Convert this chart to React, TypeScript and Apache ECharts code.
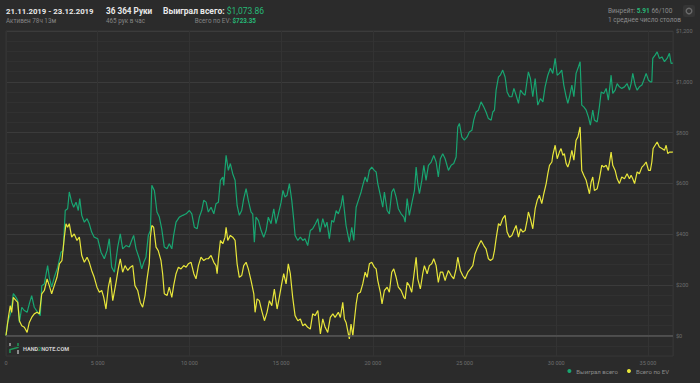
import React, { useEffect, useRef } from 'react';
import * as echarts from 'echarts';

const seriesNames = ['Выиграл всего', 'Всего по EV'];

const wonSeries: [number, number][] = [
  [0,0],[90,52],[270,92],[400,166],[550,151],[640,138],[730,52],[860,112],[1000,99],[1150,92],[1270,125],[1400,158],[1540,112],[1730,92],[1870,79],[1950,197],[2090,204],[2270,276],[2360,230],[2490,191],[2630,230],[2820,270],[3000,329],[3120,335],[3230,493],[3360,500],[3450,566],[3580,526],[3690,506],[3820,526],[3940,493],[4020,540],[4130,474],[4270,447],[4420,461],[4540,441],[4670,408],[4810,388],[5000,382],[5180,329],[5360,303],[5510,335],[5630,382],[5760,270],[5910,250],[6090,349],[6230,401],[6360,342],[6540,355],[6720,349],[6850,375],[6960,395],[7090,342],[7270,303],[7400,263],[7510,289],[7630,309],[7760,395],[7870,414],[7950,592],[8090,572],[8230,487],[8360,467],[8490,421],[8630,349],[8780,342],[8900,362],[9040,342],[9140,395],[9270,447],[9450,467],[9640,474],[9820,480],[10000,493],[10130,480],[10270,427],[10420,421],[10540,467],[10670,493],[10780,533],[10910,526],[11030,487],[11180,506],[11330,480],[11450,520],[11580,526],[11690,612],[11820,625],[11870,592],[12000,710],[12120,651],[12230,678],[12360,638],[12490,612],[12600,513],[12720,474],[12850,493],[12960,540],[13090,579],[13210,533],[13360,487],[13450,480],[13540,368],[13630,467],[13760,454],[13910,414],[14050,388],[14180,414],[14300,467],[14450,441],[14600,500],[14720,441],[14850,480],[15000,526],[15100,572],[15210,546],[15320,553],[15450,599],[15580,533],[15690,454],[15760,395],[15910,375],[16050,388],[16180,375],[16300,382],[16450,355],[16590,414],[16720,421],[16870,441],[17000,461],[17120,408],[17270,461],[17400,427],[17500,447],[17630,382],[17760,454],[17870,447],[18000,493],[18120,480],[18270,513],[18360,553],[18450,493],[18540,434],[18630,401],[18720,368],[18850,427],[18960,375],[19090,506],[19210,533],[19360,566],[19450,592],[19580,625],[19690,605],[19810,651],[19940,664],[20080,651],[20180,645],[20270,599],[20410,553],[20540,506],[20630,566],[20780,493],[20900,480],[21030,566],[21140,579],[21270,546],[21390,500],[21540,480],[21690,467],[21760,447],[21870,540],[21990,474],[22120,520],[22270,572],[22360,664],[22450,599],[22540,559],[22670,612],[22780,671],[22900,612],[23030,671],[23180,684],[23320,710],[23450,684],[23570,625],[23680,697],[23810,717],[23940,697],[24120,651],[24270,671],[24410,678],[24540,704],[24630,822],[24720,836],[24850,783],[24990,770],[25140,783],[25260,802],[25400,809],[25500,849],[25630,881],[25750,888],[25900,921],[26050,901],[26170,881],[26300,855],[26450,849],[26540,881],[26630,888],[26720,967],[26850,1019],[26950,1026],[27080,1046],[27210,1019],[27320,960],[27450,941],[27580,941],[27690,974],[27810,947],[27940,915],[28050,967],[28180,954],[28300,947],[28410,1006],[28480,1039],[28590,1013],[28720,941],[28850,1013],[28990,908],[29140,934],[29270,921],[29390,980],[29540,1026],[29680,1053],[29810,1033],[29940,1092],[30050,1026],[30170,1033],[30300,1046],[30410,987],[30540,941],[30630,915],[30720,941],[30850,987],[30960,941],[31080,1033],[31210,1059],[31300,1079],[31390,908],[31500,901],[31630,888],[31750,862],[31860,829],[31990,888],[32080,849],[32230,842],[32350,901],[32450,960],[32590,954],[32720,974],[32840,928],[32990,1026],[33080,954],[33210,967],[33320,993],[33440,980],[33570,974],[33720,980],[33860,993],[33990,967],[34080,993],[34170,1033],[34300,987],[34410,967],[34530,980],[34670,987],[34770,1006],[34900,1033],[35030,1006],[35130,1000],[35210,1000],[35260,1092],[35390,1105],[35500,1118],[35620,1092],[35760,1098],[35900,1079],[36040,1092],[36170,1112],[36260,1072],[36364,1073.86]
];

const evSeries: [number, number][] = [
  [0,0],[130,72],[230,118],[310,92],[400,151],[550,138],[640,131],[730,59],[860,39],[1000,33],[1150,13],[1270,52],[1400,72],[1540,86],[1690,92],[1820,86],[1950,165],[2090,178],[2240,224],[2360,197],[2490,165],[2630,197],[2780,230],[2910,283],[3050,296],[3180,388],[3270,441],[3360,427],[3450,441],[3580,388],[3720,401],[3870,375],[4000,388],[4130,316],[4270,289],[4420,309],[4540,289],[4670,257],[4810,230],[4960,191],[5090,171],[5220,178],[5330,151],[5450,105],[5580,191],[5690,230],[5820,138],[5870,158],[6000,210],[6120,263],[6230,303],[6360,250],[6490,276],[6640,257],[6780,270],[6910,276],[7030,197],[7180,178],[7320,131],[7450,112],[7580,158],[7690,224],[7810,283],[7870,388],[7950,434],[8050,427],[8180,349],[8300,335],[8450,296],[8540,244],[8630,165],[8780,158],[8900,191],[9040,151],[9140,197],[9270,244],[9400,270],[9540,263],[9690,276],[9820,270],[9940,283],[10090,289],[10240,244],[10360,224],[10490,276],[10630,309],[10780,296],[10910,303],[11030,303],[11180,316],[11330,289],[11450,276],[11510,244],[11580,303],[11690,375],[11820,362],[11940,388],[12000,427],[12090,375],[12230,395],[12360,388],[12490,375],[12600,283],[12720,230],[12850,237],[12960,276],[13090,289],[13210,263],[13360,217],[13510,165],[13580,92],[13690,145],[13810,138],[13940,99],[14090,59],[14230,92],[14360,138],[14490,118],[14630,184],[14780,105],[14900,151],[15030,204],[15140,244],[15270,204],[15390,283],[15500,244],[15630,151],[15760,79],[15910,59],[16050,66],[16180,39],[16300,46],[16450,33],[16590,26],[16720,86],[16850,79],[17000,99],[17140,7],[17270,66],[17400,33],[17540,13],[17680,72],[17820,86],[17940,72],[18120,92],[18230,72],[18360,131],[18450,66],[18540,52],[18630,20],[18720,-13],[18810,46],[18910,0],[18990,59],[19090,125],[19180,165],[19320,171],[19450,204],[19580,250],[19690,230],[19810,283],[19940,289],[20080,270],[20180,263],[20270,217],[20410,171],[20500,125],[20630,178],[20780,191],[20900,171],[21030,250],[21140,263],[21270,230],[21390,191],[21540,178],[21690,151],[21760,145],[21870,210],[21990,197],[22120,171],[22270,257],[22360,309],[22450,224],[22590,184],[22720,244],[22810,276],[22960,244],[23080,276],[23210,283],[23320,303],[23450,276],[23570,210],[23680,250],[23810,250],[23940,217],[23990,230],[24120,257],[24270,237],[24410,224],[24540,263],[24630,309],[24770,257],[24900,237],[25030,224],[25180,250],[25320,263],[25450,276],[25570,322],[25680,342],[25810,362],[25900,375],[26050,355],[26170,342],[26300,303],[26410,296],[26540,303],[26630,335],[26720,382],[26850,441],[26950,434],[27080,461],[27210,474],[27320,408],[27450,388],[27580,395],[27690,414],[27810,434],[27940,388],[28050,421],[28180,408],[28300,414],[28410,454],[28480,487],[28590,461],[28720,421],[28850,500],[28960,533],[29080,553],[29210,520],[29320,559],[29450,599],[29540,638],[29630,671],[29760,684],[29810,710],[29940,750],[30050,697],[30170,723],[30260,737],[30360,710],[30440,717],[30540,678],[30630,664],[30720,684],[30850,730],[30960,691],[31080,770],[31180,783],[31300,822],[31390,651],[31500,632],[31630,612],[31720,585],[31810,559],[31900,605],[31990,625],[32080,572],[32230,579],[32350,618],[32480,671],[32590,664],[32720,671],[32840,651],[32990,723],[33080,671],[33210,651],[33320,618],[33440,599],[33570,625],[33720,618],[33860,638],[33990,618],[34080,632],[34170,618],[34270,599],[34410,645],[34530,638],[34670,664],[34770,671],[34900,684],[35030,651],[35130,651],[35210,684],[35280,737],[35390,750],[35500,763],[35620,743],[35760,737],[35900,730],[35990,750],[36080,717],[36170,723],[36300,723],[36364,723.35]
];

const totalHands = 36364;
const xInterval = 5000;
const yMin = -80;
const yMax = 1200;
const yStep = 40;
const yLabelStep = 200;

const BG = '#2b2b2b';
const GREEN = '#18a571';
const BRIGHT_GREEN = '#27b877';
const YELLOW = '#e8e63a';
const FONT = 'Roboto';

const fmtHands = (v: number) => String(v).replace(/\B(?=(\d{3})+(?!\d))/g, ' ');

export default function App() {
  const ref = useRef<HTMLDivElement>(null);
  useEffect(() => {
    document.body.style.margin = '0';
    document.body.style.background = BG;
    const chart = echarts.init(ref.current!, null, { renderer: 'svg' });
    const minor = '#313131';
    const major = '#3b3b3b';
    chart.setOption({
      animation: false,
      backgroundColor: BG,
      textStyle: { fontFamily: FONT },
      grid: { left: 6, right: 27, top: 31, bottom: 27, show: true, borderColor: '#363636', borderWidth: 1 },
      legend: {
        data: seriesNames,
        right: 26,
        bottom: 4,
        icon: 'circle',
        itemWidth: 4,
        itemHeight: 4,
        itemGap: 9,
        textStyle: { color: '#8c8c8c', fontSize: 6, fontFamily: FONT },
      },
      xAxis: {
        type: 'value',
        min: 0,
        max: totalHands,
        interval: xInterval,
        axisLine: { show: false },
        axisTick: { show: false },
        splitLine: { show: true, lineStyle: { color: '#333333', width: 1 } },
        axisLabel: {
          color: '#6e6e6e',
          fontSize: 5.5,
          margin: 4,
          formatter: (v: number) => (v % xInterval === 0 ? fmtHands(v) : ''),
        },
      },
      yAxis: {
        type: 'value',
        position: 'right',
        min: yMin,
        max: yMax,
        interval: yStep,
        axisLine: { show: false },
        axisTick: { show: false },
        splitLine: { show: true, lineStyle: { color: [minor, minor, major, minor, minor], width: 1 } },
        axisLabel: {
          color: '#6e6e6e',
          fontSize: 5.5,
          margin: 3,
          formatter: (v: number) => (v >= 0 && v % yLabelStep === 0 ? '$' + v.toLocaleString('en-US') : ''),
        },
      },
      series: [
        {
          name: seriesNames[0],
          type: 'line',
          data: wonSeries,
          symbol: 'none',
          lineStyle: { color: GREEN, width: 1.2 },
          itemStyle: { color: GREEN },
          markLine: {
            silent: true,
            symbol: ['none', 'none'],
            label: { show: false },
            lineStyle: { color: '#575757', width: 1.5, type: 'solid' },
            data: [{ yAxis: 0 }],
          },
        },
        {
          name: seriesNames[1],
          type: 'line',
          data: evSeries,
          symbol: 'none',
          lineStyle: { color: YELLOW, width: 1.2 },
          itemStyle: { color: YELLOW },
        },
      ],
      graphic: [
        { type: 'text', x: 6, y: 11, style: { text: '21.11.2019 - 23.12.2019', fill: '#e8e8e8', fontSize: 7.8, fontWeight: 'bold', fontFamily: FONT, verticalAlign: 'middle' } },
        { type: 'text', x: 6, y: 21, style: { text: 'Активен 78ч 13м', fill: '#858585', fontSize: 6.3, fontFamily: FONT, verticalAlign: 'middle' } },
        { type: 'text', x: 106, y: 11, style: { text: '36 364 Руки', fill: '#e8e8e8', fontSize: 8.2, fontWeight: 'bold', fontFamily: FONT, verticalAlign: 'middle' } },
        { type: 'text', x: 106, y: 21, style: { text: '465 рук в час', fill: '#858585', fontSize: 6.3, fontFamily: FONT, verticalAlign: 'middle' } },
        {
          type: 'text', x: 163, y: 11,
          style: {
            text: '{a|Выиграл всего: }{b|$1,073.86}', verticalAlign: 'middle', fontFamily: FONT,
            rich: {
              a: { fill: '#e8e8e8', fontSize: 8.5, fontWeight: 'bold', fontFamily: FONT },
              b: { fill: BRIGHT_GREEN, fontSize: 8.5, fontFamily: FONT },
            },
          },
        },
        {
          type: 'text', x: 256, y: 21,
          style: {
            text: '{a|Всего по EV: }{b|$723.35}', align: 'right', verticalAlign: 'middle', fontFamily: FONT,
            rich: {
              a: { fill: '#858585', fontSize: 6.3, fontFamily: FONT },
              b: { fill: BRIGHT_GREEN, fontSize: 6.3, fontWeight: 'bold', fontFamily: FONT },
            },
          },
        },
        {
          type: 'text', x: 608, y: 11,
          style: {
            text: '{a|Винрейт: }{b|5.91}{a| 66/100}', verticalAlign: 'middle', fontFamily: FONT,
            rich: {
              a: { fill: '#8c8c8c', fontSize: 6.5, fontFamily: FONT },
              b: { fill: BRIGHT_GREEN, fontSize: 6.5, fontWeight: 'bold', fontFamily: FONT },
            },
          },
        },
        { type: 'text', x: 608, y: 20, style: { text: '1 среднее число столов', fill: '#8c8c8c', fontSize: 6.5, fontFamily: FONT, verticalAlign: 'middle' } },
        { type: 'rect', shape: { x: 683, y: 5, width: 12, height: 12, r: 2 }, style: { fill: '#353535' } },
        { type: 'circle', shape: { cx: 689, cy: 11, r: 2.8 }, style: { fill: 'none', stroke: '#6a6a6a', lineWidth: 1.4 } },
        { type: 'polyline', shape: { points: [[10, 343], [10, 347]] }, style: { stroke: '#bdbdbd', lineWidth: 1.3, fill: 'none' } },
        { type: 'polyline', shape: { points: [[10, 353], [10, 349.5], [18, 347.5], [18, 343]] }, style: { stroke: '#1f9a5a', lineWidth: 1.5, fill: 'none' } },
        { type: 'polyline', shape: { points: [[18, 350], [18, 354]] }, style: { stroke: '#bdbdbd', lineWidth: 1.3, fill: 'none' } },
        {
          type: 'text', x: 23, y: 349,
          style: {
            text: '{a|HAND}{b|2}{a|NOTE.COM}', verticalAlign: 'middle', fontFamily: FONT,
            rich: {
              a: { fill: '#cfcfcf', fontSize: 5.5, fontWeight: 'bold', fontFamily: FONT },
              b: { fill: '#1f9a5a', fontSize: 5.5, fontWeight: 'bold', fontFamily: FONT },
            },
          },
        },
      ],
    });
    return () => chart.dispose();
  }, []);
  return <div ref={ref} style={{ width: 700, height: 383 }} />;
}
